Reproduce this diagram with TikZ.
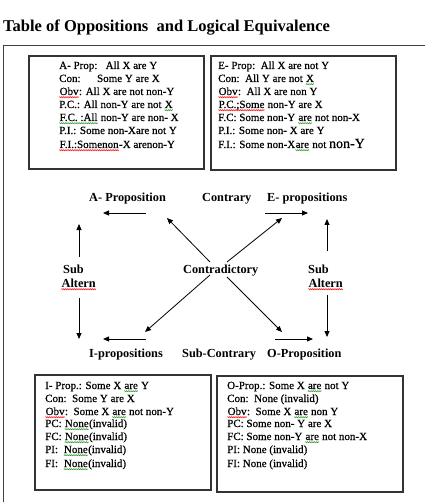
\documentclass[tikz,border=0pt]{standalone}
\usepackage{fontspec}
\setmainfont{Liberation Serif}
\newfontface\boxfont{Liberation Serif}[FakeBold=0.6]
\usetikzlibrary{arrows.meta,decorations.pathmorphing}
\definecolor{wavegreen}{RGB}{40,150,40}
\newcommand\wavyline[2]{\tikz[baseline=(w.base)]{\node[inner sep=0pt,anchor=base west] (w) at (0,0) {#2};
  \draw[#1, line width=0.45pt, decorate, decoration={zigzag, amplitude=0.6pt, segment length=1.8pt}] ([yshift=-2.2pt]w.base west) -- ([yshift=-2.2pt]w.base east);}}
\newcommand\rwave[1]{\wavyline{red}{#1}}
\newcommand\gwave[1]{\wavyline{wavegreen}{#1}}
\tikzset{
  boxframe/.style={draw=black!80, line width=1.2pt},
  ln/.style={anchor=base west, inner sep=0pt, font=\boxfont\fontsize{11}{13}\selectfont},
  lbl/.style={anchor=base west, inner sep=0pt, font=\bfseries\fontsize{12.3}{14}\selectfont},
  arr/.style={-{Triangle[length=6pt,width=5pt]}, line width=0.8pt},
}
\begin{document}
\begin{tikzpicture}[x=1pt,y=-1pt]
\useasboundingbox (0,0) rectangle (427,502);
% title
\node[anchor=base west, inner sep=0pt, font=\bfseries\fontsize{16.5}{18}\selectfont] (title) at (3,32) {Table of Oppositions\ \ and Logical Equivalence};
% outer frame
\draw[draw=black!75, line width=1pt] (3,502) -- (3,46) -- (425,46);
% boxes
\draw[boxframe] (29,56) rectangle (204,169);
\draw[boxframe] (211,56) rectangle (396,170);
\draw[boxframe] (35,375) rectangle (211,490);
\draw[boxframe] (217,376) rectangle (403,492);
% top-left box
\node[ln] (a1) at (59,69) {A- Prop:\ \ \ All X are Y};
\node[ln] (a2) at (59,82) {Con:\ \ \ \ \ \ Some Y are X};
\node[ln] (a3) at (59,95) {\rwave{Obv}: All X are not non-Y};
\node[ln] (a4) at (59,108) {P.C.: All non-Y are not \gwave{X}};
\node[ln] (a5) at (59,121) {\gwave{F.C. :All} non-Y are non- X};
\node[ln] (a6) at (59,134) {P.I.: Some non-Xare not Y};
\node[ln] (a7) at (59,148) {\rwave{F.I.:Somenon}-X arenon-Y};
% top-right box
\node[ln] (e1) at (218,69) {E- Prop:\ \ All X are not Y};
\node[ln] (e2) at (218,82) {Con:\ \ All Y are not \gwave{X}};
\node[ln] (e3) at (218,95) {\rwave{Obv}:\ \ All X are non Y};
\node[ln] (e4) at (218,108) {\rwave{P.C.;Some} non-Y are X};
\node[ln] (e5) at (218,121) {F.C: Some non-Y \gwave{are} not non-X};
\node[ln] (e6) at (218,134) {P.I.: Some non- X are Y};
\node[ln] (e7) at (218,148) {F.I.: Some non-X\gwave{are} not {\fontsize{14}{14}\selectfont non-Y}};
% bottom-left box
\node[ln] (i1) at (45,389) {I- Prop.: Some X \gwave{are} Y};
\node[ln] (i2) at (45,402) {Con:\ \ Some Y are X};
\node[ln] (i3) at (45,415) {\rwave{Obv}:\ \ Some X \gwave{are} not non-Y};
\node[ln] (i4) at (45,427) {PC: \gwave{None}(invalid)};
\node[ln] (i5) at (45,440) {FC: \gwave{None}(invalid)};
\node[ln] (i6) at (45,453) {PI:\ \ \gwave{None}(invalid)};
\node[ln] (i7) at (45,467) {FI:\ \ \gwave{None}(invalid)};
% bottom-right box
\node[ln] (o1) at (227,389) {O-Prop.: Some X \gwave{are} not Y};
\node[ln] (o2) at (227,402) {Con:\ \ None (invalid)};
\node[ln] (o3) at (227,415) {\rwave{Obv}:\ \ Some X \gwave{are} non Y};
\node[ln] (o4) at (227,427) {PC: Some non- Y are X};
\node[ln] (o5) at (227,440) {FC: Some non-Y \gwave{are} not non-X};
\node[ln] (o6) at (227,453) {PI: None (invalid)};
\node[ln] (o7) at (227,467) {FI: None (invalid)};
% diagram labels
\node[lbl] (A) at (89,202) {A- Proposition};
\node[lbl] (contrary) at (202,202) {Contrary};
\node[lbl] (E) at (267,202) {E- propositions};
\node[lbl] (subL) at (63,273) {Sub};
\node[lbl] (altL) at (61,287) {\rwave{Altern}};
\node[lbl] (contra) at (183,273) {Contradictory};
\node[lbl] (subR) at (308,273) {Sub};
\node[lbl] (altR) at (308,287) {\rwave{Altern}};
\node[lbl] (I) at (89,357) {I-propositions};
\node[lbl] (subcon) at (182,357) {Sub-Contrary};
\node[lbl] (O) at (267,357) {O-Proposition};
% arrow end points
\coordinate (pA1) at (146,213); \coordinate (pA2) at (103,213);
\coordinate (pE1) at (265,213); \coordinate (pE2) at (308,213);
\coordinate (pI1) at (146,339); \coordinate (pI2) at (103,339);
\coordinate (pO1) at (275,339); \coordinate (pO2) at (313,339);
\coordinate (pLu1) at (79,257); \coordinate (pLu2) at (79,224);
\coordinate (pLd1) at (79,298); \coordinate (pLd2) at (79,339);
\coordinate (pRu1) at (327,251); \coordinate (pRu2) at (327,219);
\coordinate (pRd1) at (327,295); \coordinate (pRd2) at (327,337);
\coordinate (c1) at (210,262); \coordinate (t1) at (167,218);
\coordinate (c2) at (227,262); \coordinate (t2) at (282,218);
\coordinate (c3) at (210,275); \coordinate (t3) at (145,332);
\coordinate (c4) at (227,277); \coordinate (t4) at (282,332);
\draw[arr] (pA1) -- (pA2);
\draw[arr] (pE1) -- (pE2);
\draw[arr] (pI1) -- (pI2);
\draw[arr] (pO1) -- (pO2);
\draw[arr] (pLu1) -- (pLu2);
\draw[arr] (pLd1) -- (pLd2);
\draw[arr] (pRu1) -- (pRu2);
\draw[arr] (pRd1) -- (pRd2);
\draw[arr] (c1) -- (t1);
\draw[arr] (c2) -- (t2);
\draw[arr] (c3) -- (t3);
\draw[arr] (c4) -- (t4);
\end{tikzpicture}
\end{document}
